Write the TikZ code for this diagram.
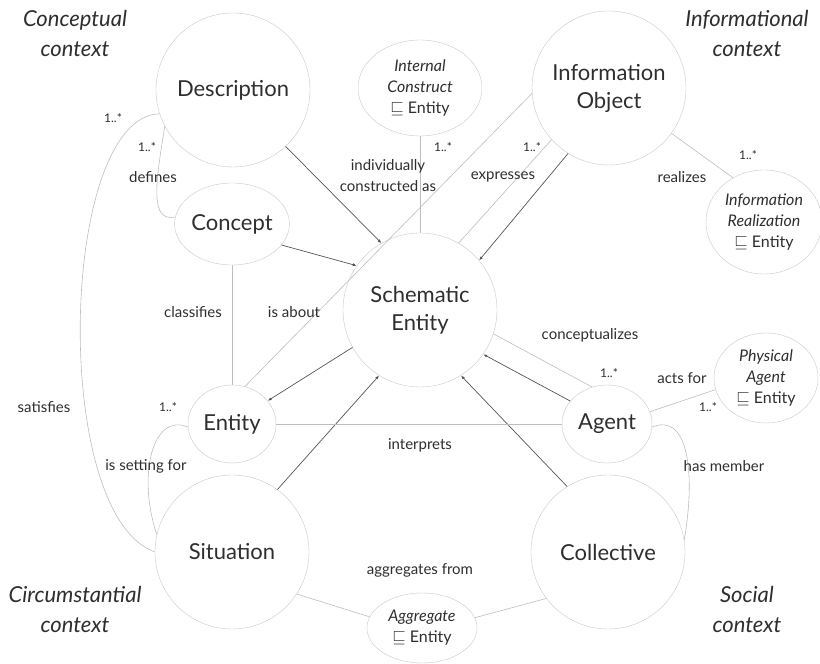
\documentclass[tikz,border=0pt]{standalone}
\usepackage{fontspec}
\setmainfont{Lato}
\usetikzlibrary{shapes.geometric,arrows.meta}
\definecolor{rimgray}{HTML}{C8C8C8}
\definecolor{linegray}{HTML}{BDBDBD}
\definecolor{arrowgray}{HTML}{555555}
\definecolor{textgray}{HTML}{2E2E2E}
\begin{document}
\begin{tikzpicture}[x=1pt,y=1pt,
  bignode/.style={circle,draw=rimgray,minimum size=154pt,inner sep=0pt,align=center,
    text=textgray,font=\fontsize{22}{28}\selectfont},
  midnode/.style={ellipse,draw=rimgray,minimum width=90pt,minimum height=82pt,inner sep=0pt,
    align=center,text=textgray,font=\fontsize{22}{28}\selectfont},
  subnode/.style={ellipse,draw=rimgray,inner sep=0pt,align=center,text=textgray,
    font=\fontsize{16}{21}\selectfont},
  lightline/.style={draw=linegray,line width=0.6pt},
  darkarrow/.style={draw=arrowgray,line width=0.7pt,-{Latex[length=4pt,width=3pt]}},
  edgelabel/.style={text=textgray,align=center,font=\fontsize{15}{21}\selectfont},
  multlabel/.style={text=textgray,font=\fontsize{12}{12}\selectfont},
  contextlabel/.style={text=textgray,align=center,font=\fontsize{22}{30}\selectfont\itshape}]
\useasboundingbox (0,0) rectangle (820,664);
% contexts in the corners
\node[contextlabel] (ctxconc) at (75,631) {Conceptual\\context};
\node[contextlabel] (ctxinfo) at (747,631) {Informational\\context};
\node[contextlabel] (ctxcirc) at (75,55) {Circumstantial\\context};
\node[contextlabel] (ctxsoc) at (747,55) {Social\\context};
% main nodes
\node[bignode] (se) at (420,354) {Schematic\\Entity};
\node[bignode] (desc) at (233,574) {Description};
\node[bignode] (io) at (609,576) {Information\\Object};
\node[bignode] (sit) at (232,112) {Situation};
\node[bignode] (col) at (608,112) {Collective};
\node[midnode] (con) at (232,440) {Concept};
\node[midnode,minimum width=88pt,minimum height=78pt] (ent) at (232,240) {Entity};
\node[midnode,minimum height=78pt] (ag) at (607,240) {Agent};
% subclasses of Entity
\node[subnode,minimum width=124pt,minimum height=96pt] (ic) at (420,576)
  {\textit{Internal}\\\textit{Construct}\\$\sqsubseteq$ Entity};
\node[subnode,minimum width=116pt,minimum height=104pt] (ir) at (764,442)
  {\textit{Information}\\\textit{Realization}\\$\sqsubseteq$ Entity};
\node[subnode,minimum width=104pt,minimum height=90pt] (pa) at (766,286)
  {\textit{Physical}\\\textit{Agent}\\$\sqsubseteq$ Entity};
\node[subnode,minimum width=110pt,minimum height=70pt] (agg) at (422,36)
  {\textit{Aggregate}\\$\sqsubseteq$ Entity};
% arrows into and out of Schematic Entity
\draw[darkarrow] (desc.313) -- (se.120);
\draw[darkarrow] (con.337) -- (se.145);
\draw[darkarrow] (io.238) -- (se.40);
\draw[darkarrow] (se.209) -- (ent.33);
\draw[darkarrow] (sit.54) -- (se.238);
\draw[darkarrow] (col.122) -- (se.302);
\draw[darkarrow] (ag.148) -- (se.325);
% plain relations
\draw[lightline] (ic.south) -- (se.north);
\draw[lightline] (io.184) -- (ent.71);
\draw[lightline] (io.222) -- (se.60);
\draw[lightline] (io.324) -- (ir.125);
\draw[lightline] (con.south) -- (ent.north);
\draw[lightline] (ent.east) -- (ag.west);
\draw[lightline] (ag.112) -- (se.342);
\draw[lightline] (ag.16) -- (pa.193);
\draw[lightline] (sit.327) -- (agg.168);
\draw[lightline] (col.217) -- (agg.11);
% curved relations
\draw[lightline] (desc.208) .. controls +(-10,-60) and +(-25,-5) .. (con.173);
\draw[lightline] (desc.198) .. controls +(-100,-2) and +(-105,38) .. (sit.180);
\draw[lightline] (sit.167) .. controls +(-20,60) and +(-35,15) .. (ent.184);
\draw[lightline] (ag.356) .. controls +(35,15) and +(12,70) .. (col.9);
% relation names
\node[edgelabel] (lbldef) at (153,487) {defines};
\node[edgelabel] (lblsat) at (44,257) {satisfies};
\node[edgelabel] (lblcla) at (193,352) {classifies};
\node[edgelabel] (lblabo) at (294,352) {is about};
\node[edgelabel] (lblind) at (388,488) {individually\\constructed as};
\node[edgelabel] (lblexp) at (503,487) {expresses};
\node[edgelabel] (lblrea) at (682,487) {realizes};
\node[edgelabel] (lblcpt) at (590,329) {conceptualizes};
\node[edgelabel] (lblact) at (682,286) {acts for};
\node[edgelabel] (lblset) at (146,198) {is setting for};
\node[edgelabel] (lblint) at (420,219) {interprets};
\node[edgelabel] (lblmem) at (724,198) {has member};
\node[edgelabel] (lblagg) at (420,94) {aggregates from};
% cardinalities
\node[multlabel] (mulsat) at (113,546) {1..*};
\node[multlabel] (muldef) at (147,517) {1..*};
\node[multlabel] (mulic) at (443,517) {1..*};
\node[multlabel] (mulexp) at (532,517) {1..*};
\node[multlabel] (mulrea) at (748,509) {1..*};
\node[multlabel] (mulag) at (609,291) {1..*};
\node[multlabel] (mulpa) at (708,257) {1..*};
\node[multlabel] (mulent) at (168,257) {1..*};
\end{tikzpicture}
\end{document}
